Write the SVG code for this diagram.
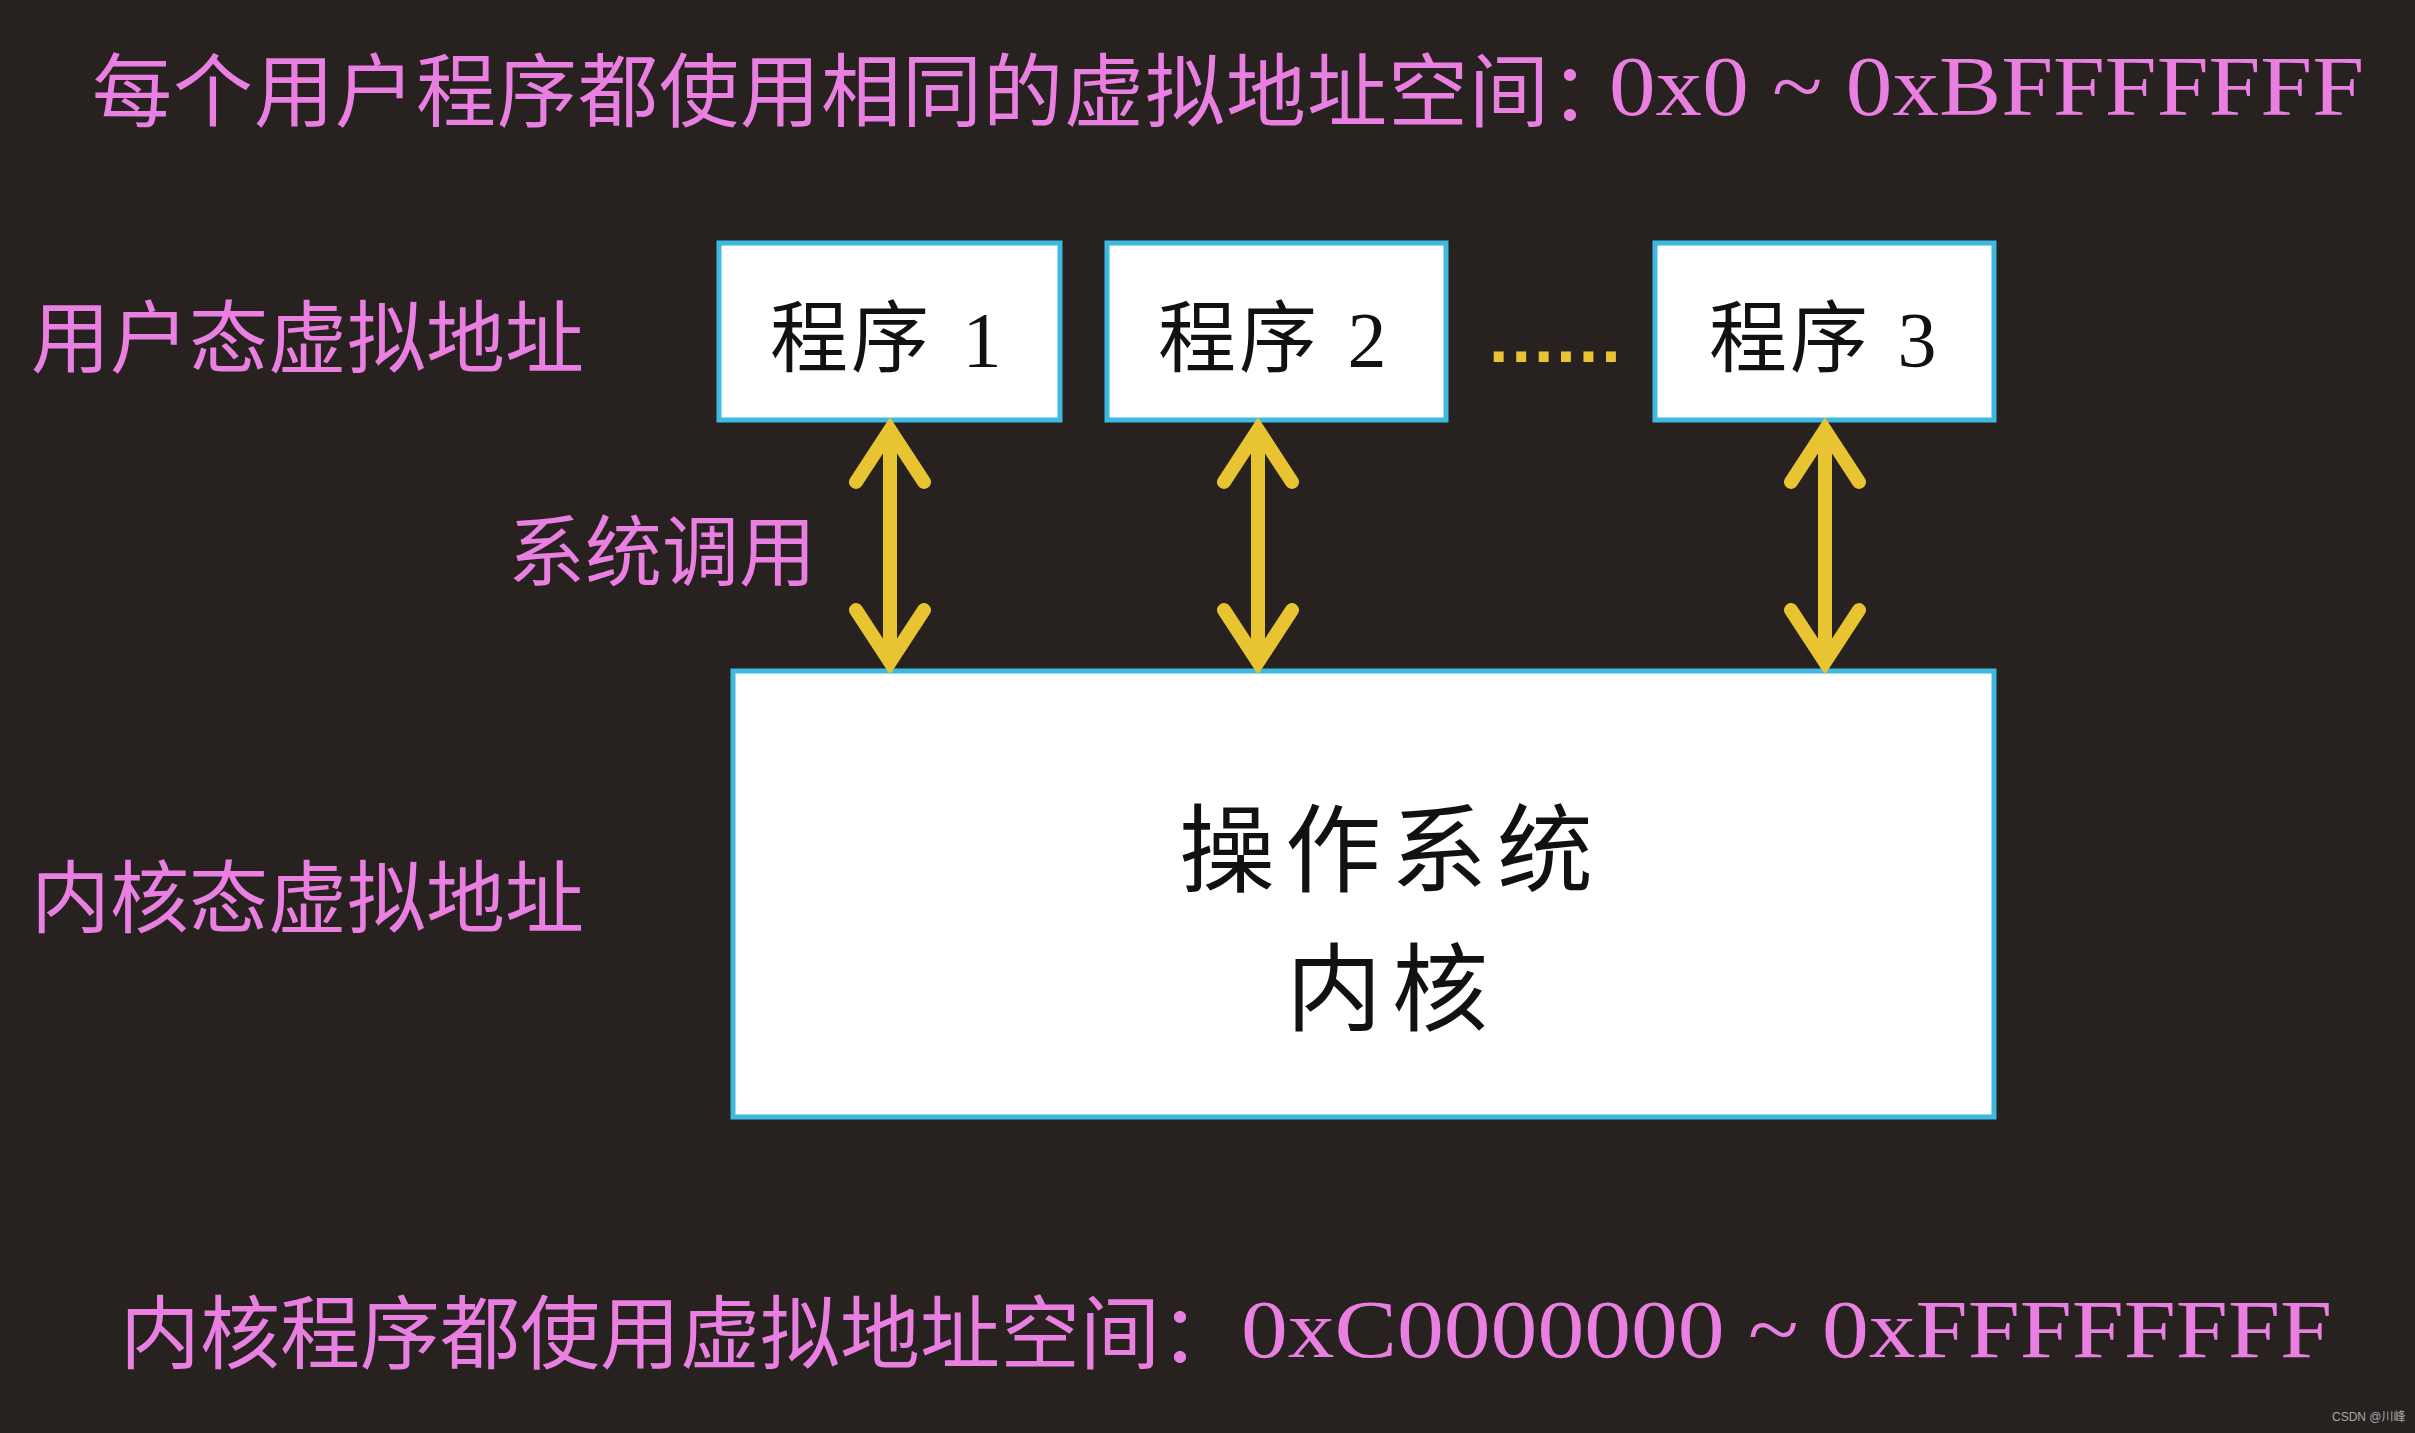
<svg xmlns="http://www.w3.org/2000/svg" width="2415" height="1433" viewBox="0 0 2415 1433">
<defs>
<style>
.bg{fill:#27221f}
.box{fill:#ffffff;stroke:#3db9e2;stroke-width:5}
.pink{fill:#ea7fe2;font-family:"Noto Sans CJK SC","Noto Sans CJK JP",sans-serif}
.pinkl{fill:#ea7fe2;font-family:"Liberation Serif","DejaVu Serif",serif}
.blk{fill:#111111;font-family:"Noto Sans CJK SC","Noto Sans CJK JP",sans-serif}
.blkl{fill:#111111;font-family:"Liberation Serif","DejaVu Serif",serif}
.arr{fill:none;stroke:#e9c432;stroke-width:14;stroke-linecap:round;stroke-linejoin:miter}
</style>
</defs>
<rect class="bg" x="0" y="0" width="2415" height="1433"/>

<g id="title-top">
<text class="pink" x="92" y="120" font-size="80" letter-spacing="1">每个用户程序都使用相同的虚拟地址空间：</text>
<text class="pinkl" x="1609" y="115" font-size="84" textLength="755" lengthAdjust="spacingAndGlyphs">0x0 ~ 0xBFFFFFFF</text>
</g>

<g id="label-user">
<text class="pink" x="31" y="367" font-size="79">用户态虚拟地址</text>
</g>
<g id="label-syscall">
<text class="pink" x="508" y="580" font-size="77">系统调用</text>
</g>
<g id="label-kernel">
<text class="pink" x="31" y="927" font-size="79">内核态虚拟地址</text>
</g>

<g id="prog1">
<rect class="box" x="719" y="243" width="341" height="177"/>
<text class="blk" x="770" y="366" font-size="78" letter-spacing="3">程序</text>
<text class="blkl" x="982" y="366" font-size="78" text-anchor="middle">1</text>
</g>
<g id="prog2">
<rect class="box" x="1107" y="243" width="339" height="177"/>
<text class="blk" x="1158" y="366" font-size="78" letter-spacing="3">程序</text>
<text class="blkl" x="1367" y="366" font-size="78" text-anchor="middle">2</text>
</g>
<g id="ellipsis">
<text x="1489" y="362" font-family="Liberation Sans,Arial,sans-serif" font-weight="bold" font-size="70" letter-spacing="3" fill="#e9c432">......</text>
</g>
<g id="prog3">
<rect class="box" x="1655" y="243" width="339" height="177"/>
<text class="blk" x="1709" y="366" font-size="78" letter-spacing="3">程序</text>
<text class="blkl" x="1917" y="366" font-size="78" text-anchor="middle">3</text>
</g>

<g id="kernel">
<rect class="box" x="733" y="671" width="1261" height="446"/>
<text class="blk" font-size="96" letter-spacing="10" text-anchor="middle"><tspan x="1391" y="884">操作系统</tspan><tspan x="1392" y="1023">内核</tspan></text>
</g>

<g id="connectors">
<path class="arr" d="M890,432 L890,660 M856,482 L890,430 L924,482 M856,610 L890,662 L924,610"/>
<path class="arr" d="M1258,432 L1258,660 M1224,482 L1258,430 L1292,482 M1224,610 L1258,662 L1292,610"/>
<path class="arr" d="M1825,432 L1825,660 M1791,482 L1825,430 L1859,482 M1791,610 L1825,662 L1859,610"/>
</g>

<g id="title-bottom">
<text class="pink" x="120" y="1362" font-size="80" letter-spacing="0">内核程序都使用虚拟地址空间：</text>
<text class="pinkl" x="1241" y="1357" font-size="82" textLength="1091" lengthAdjust="spacingAndGlyphs">0xC0000000 ~ 0xFFFFFFFF</text>
</g>

<g id="watermark">
<text x="2332" y="1421" font-family="Liberation Sans,Arial,'Noto Sans CJK SC',sans-serif" font-size="12" fill="#a8a8a8">CSDN @川峰</text>
</g>
</svg>
